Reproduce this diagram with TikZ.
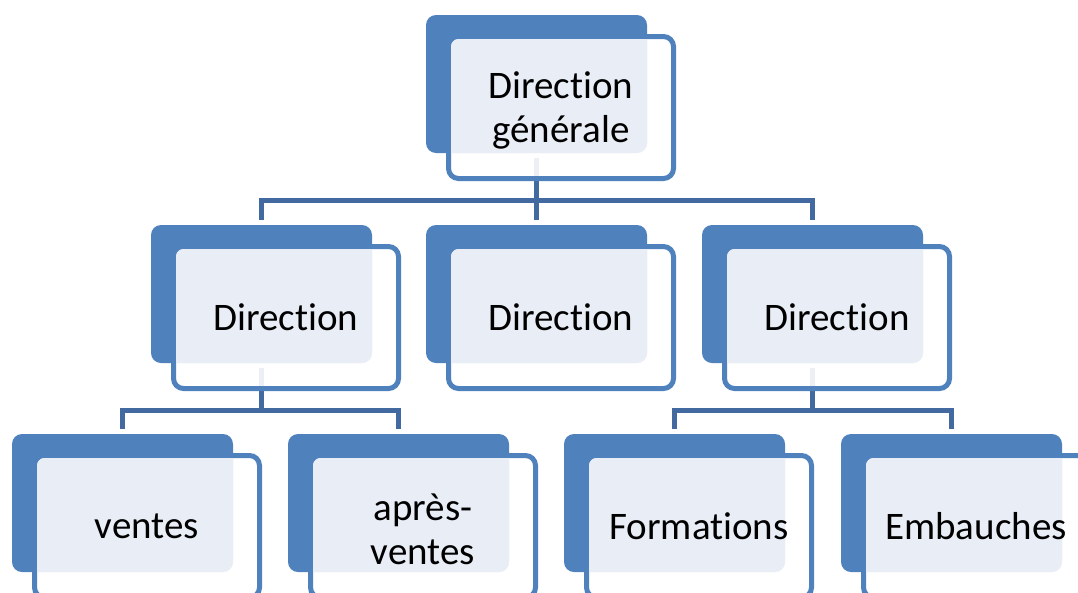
\documentclass[tikz,border=0pt]{standalone}
\usepackage{fontspec}
\setmainfont{Carlito}[Ligatures=NoCommon]
\usetikzlibrary{calc,backgrounds}
\definecolor{accent}{RGB}{79,129,189}
\definecolor{paleblue}{RGB}{233,238,246}
\definecolor{linkblue}{RGB}{66,106,160}
\tikzset{
  backbox/.style={rectangle, rounded corners=10pt, fill=accent,
    minimum width=221pt, minimum height=138pt, inner sep=0pt, outer sep=0pt},
  frontbox/.style={rectangle, rounded corners=10pt, draw=accent, line width=5pt,
    fill=white, fill opacity=0.9, minimum width=225pt, minimum height=142pt,
    inner sep=0pt, outer sep=0pt},
  unittext/.style={text=black, align=center, inner sep=0pt,
    font=\fontsize{39pt}{43.5pt}\selectfont},
  link/.style={draw=linkblue, line width=5pt, shorten <=5pt, shorten >=5pt},
}
% #1 name, #2 left edge, #3 top edge, #4 label, #5 vertical text nudge
\newcommand\orgunit[5]{%
  \node[backbox] (#1) at (#2+110.5, #3+69) {};
  \node[frontbox] (#1f) at (#2+135, #3+92.5) {};
  \begin{scope}
    \clip[rounded corners=10pt] (#1.south west) rectangle (#1.north east);
    \fill[paleblue, rounded corners=7.5pt]
      ($(#1f.south west)+(2.5pt,2.5pt)$) rectangle ($(#1f.north east)+(-2.5pt,-2.5pt)$);
  \end{scope}
  \node[unittext] (#1t) at ($(#1f.center)+(0,#5)$) {#4};
}
\begin{document}
\begin{tikzpicture}[x=1pt, y=-1pt]
  \useasboundingbox (0,0) rectangle (1078,592);
  \clip (0,0) rectangle (1078,592);

  \orgunit{dg}{426}{15}{Direction\\générale}{3}

  \orgunit{da}{151}{225}{Direction}{0}
  \orgunit{db}{426}{225}{Direction}{0}
  \orgunit{dc}{702}{225}{Direction}{0}

  \orgunit{ve}{12}{434}{ventes}{0}
  \orgunit{av}{288}{434}{après-\\ventes}{3}
  \orgunit{fo}{564}{434}{Formations}{0}
  \orgunit{em}{841}{434}{Embauches}{0}

  \begin{pgfonlayer}{background}
    \draw[link] (dg.south) -- ++(0,47) -| (da.north);
    \draw[link] (dg.south) -- ++(0,47) -| (db.north);
    \draw[link] (dg.south) -- ++(0,47) -| (dc.north);
    \draw[link] (da.south) -- ++(0,47) -| (ve.north);
    \draw[link] (da.south) -- ++(0,47) -| (av.north);
    \draw[link] (dc.south) -- ++(0,47) -| (fo.north);
    \draw[link] (dc.south) -- ++(0,47) -| (em.north);
  \end{pgfonlayer}
\end{tikzpicture}
\end{document}
